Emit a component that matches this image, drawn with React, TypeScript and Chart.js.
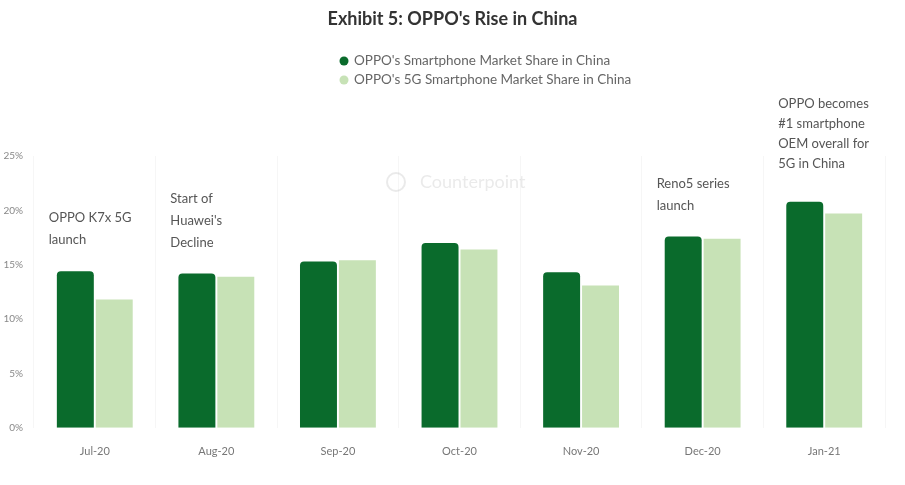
import React, { useEffect, useRef } from "react";
import { Chart, registerables } from "chart.js";

Chart.register(...registerables);

const categories = ["Jul-20", "Aug-20", "Sep-20", "Oct-20", "Nov-20", "Dec-20", "Jan-21"];
const overallShare = [14.4, 14.2, 15.3, 17.0, 14.3, 17.6, 20.8];
const fiveGShare = [11.8, 13.9, 15.4, 16.4, 13.1, 17.4, 19.7];
const seriesNames = ["OPPO's Smartphone Market Share in China", "OPPO's 5G Smartphone Market Share in China"];
const yTicks = [0, 5, 10, 15, 20, 25];
const titleText = "Exhibit 5: OPPO's Rise in China";
const annotations: { index: number; lines: string[] }[] = [
  { index: 0, lines: ["OPPO K7x 5G", "launch"] },
  { index: 1, lines: ["Start of", "Huawei's", "Decline"] },
  { index: 5, lines: ["Reno5 series", "launch"] },
  { index: 6, lines: ["OPPO becomes", "#1 smartphone", "OEM overall for", "5G in China"] },
];

const DARK = "#0a6b2c";
const LIGHT = "#c7e2b6";
const FONT = "Lato, 'Liberation Sans', sans-serif";

const overlayPlugin = {
  id: "overlay",
  afterDraw(chart: any) {
    const ctx = chart.ctx;
    const w = chart.width;
    ctx.save();
    // title
    ctx.fillStyle = "#333";
    ctx.font = `bold 18px ${FONT}`;
    ctx.textAlign = "center";
    ctx.textBaseline = "middle";
    ctx.fillText(titleText, w / 2, 19);
    // legend
    const colors = [DARK, LIGHT];
    ctx.font = `13.5px ${FONT}`;
    ctx.textAlign = "left";
    seriesNames.forEach((n, i) => {
      const y = 61 + i * 19;
      ctx.beginPath();
      ctx.fillStyle = colors[i];
      ctx.arc(344, y, 4.5, 0, Math.PI * 2);
      ctx.fill();
      ctx.fillStyle = "#666";
      ctx.fillText(n, 354, y);
    });
    // watermark
    ctx.globalAlpha = 0.18;
    ctx.strokeStyle = "#888";
    ctx.lineWidth = 2;
    ctx.beginPath();
    ctx.arc(396, 182, 9, 0, Math.PI * 2);
    ctx.stroke();
    ctx.fillStyle = "#888";
    ctx.font = `18px ${FONT}`;
    ctx.fillText("Counterpoint", 420, 182);
    ctx.globalAlpha = 1;
    // annotations
    const xs = chart.scales.x;
    const ys = chart.scales.y;
    ctx.font = `13px ${FONT}`;
    ctx.fillStyle = "#555";
    annotations.forEach((a) => {
      const cx = xs.getPixelForValue(a.index);
      const top = ys.getPixelForValue(Math.max(overallShare[a.index], fiveGShare[a.index]));
      const n = a.lines.length;
      const lh = n > 3 ? 20 : 22;
      const gap = n > 3 ? 38 : 31;
      a.lines.forEach((l, j) => {
        ctx.fillText(l, cx - 46, top - gap - (n - 1 - j) * lh);
      });
    });
    ctx.restore();
  },
};

export default function App() {
  const ref = useRef<HTMLCanvasElement>(null);
  useEffect(() => {
    const chart = new Chart(ref.current!, {
      type: "bar",
      data: {
        labels: categories,
        datasets: [
          { label: seriesNames[0], data: overallShare, backgroundColor: DARK, borderRadius: 4, barPercentage: 0.95, categoryPercentage: 0.64 },
          { label: seriesNames[1], data: fiveGShare, backgroundColor: LIGHT, borderRadius: 0, barPercentage: 0.95, categoryPercentage: 0.64 },
        ],
      },
      options: {
        responsive: false,
        animation: false,
        layout: { padding: { top: 156, right: 20, bottom: 10, left: 0 } },
        plugins: { legend: { display: false }, title: { display: false }, tooltip: { enabled: false } },
        scales: {
          x: {
            grid: { display: true, color: "#f6f6f6", offset: true, drawTicks: false },
            border: { display: false },
            ticks: { color: "#777", font: { family: FONT, size: 11 }, padding: 17 },
          },
          y: {
            min: 0,
            max: 25,
            afterBuildTicks: (s: any) => { s.ticks = yTicks.map((v) => ({ value: v })); },
            afterFit: (s: any) => { s.width = 34; },
            grid: { display: false },
            border: { display: false },
            ticks: { color: "#888", font: { family: FONT, size: 10 }, callback: (v: any) => v + "%" },
          },
        },
      },
      plugins: [overlayPlugin],
    });
    return () => chart.destroy();
  }, []);
  return (
    <div style={{ position: "absolute", left: 0, top: 0, width: 905, height: 485, background: "#fff" }}>
      <canvas ref={ref} width={905} height={485} />
    </div>
  );
}
